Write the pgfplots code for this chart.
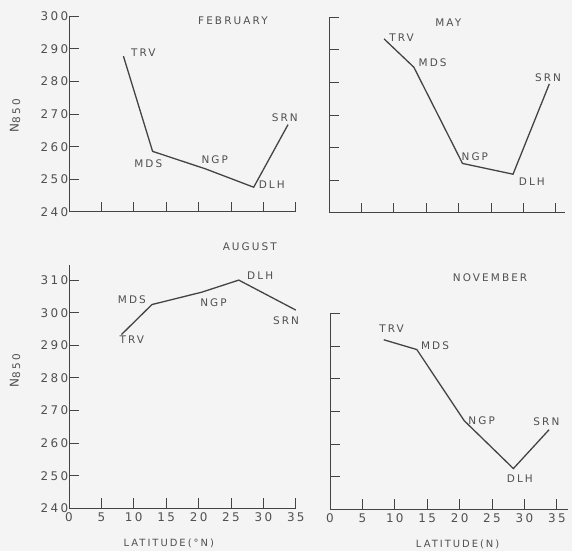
\documentclass[border=0pt]{standalone}
\usepackage{pgfplots}
\pgfplotsset{compat=1.18}
\usepackage{fontspec}
\setmainfont{DejaVu Sans}[LetterSpace=20]
\definecolor{ink}{RGB}{68,68,68}
\definecolor{txt}{RGB}{80,80,80}
\definecolor{bg}{RGB}{244,244,244}
\pgfplotsset{
  panel/.style={
    x=6.48bp, y=3.26bp, anchor=south west,
    axis lines*=left, xmin=0, ymin=240,
    axis line style={ink, line width=1bp},
    tick style={ink, line width=1bp},
    tick align=inside, major tick length=10bp,
    xtick={0,5,...,35}, ytick={240,250,...,310},
    clip=false,
    /pgf/number format/assume math mode=true,
    ticklabel style={font=\fontsize{12}{13}\selectfont, text=txt},
    yticklabel style={inner sep=0.5bp},
    xticklabel style={inner sep=4.5bp},
  },
}
\tikzset{
  data/.style={ink, line width=1.3bp, mark=none},
  lab/.style={font=\fontsize{10.5}{11}\selectfont, text=txt, inner sep=0pt},
  ttl/.style={font=\fontsize{10.5}{11}\selectfont, text=txt, inner sep=0pt},
  xlab/.style={font=\fontsize{10}{11}\selectfont, text=txt, inner sep=0pt},
  ylab/.style={font=\fontsize{12}{13}\selectfont, text=txt, inner sep=0pt, rotate=90},
}
\begin{document}
\begin{tikzpicture}
\useasboundingbox (0,0) rectangle (572bp,551bp);
\fill[bg] (0,0) rectangle (572bp,551bp);
% February
\begin{axis}[panel, at={(69bp,339bp)}, xmax=35, ymax=300, xticklabels={}]
\addplot[data] coordinates {(8.4,287.8) (12.9,258.6) (21.1,253.2) (28.5,247.6) (33.8,266.8)};
\node[lab] at (axis cs:11.47,288.8) {TRV};
\node[lab] at (axis cs:12.24,254.8) {MDS};
\node[lab] at (axis cs:22.5,256) {NGP};
\node[lab] at (axis cs:31.3,248.3) {DLH};
\node[lab] at (axis cs:33.3,268.8) {SRN};
\node[ttl] at (axis cs:25.3,298.6) {FEBRUARY};
\node[ylab] at ([xshift=-54bp]axis cs:0,269.5) {N\raisebox{-1.5bp}{\fontsize{10.5}{11}\selectfont 850}};
\end{axis}
% May
\begin{axis}[panel, at={(329bp,338bp)}, xmax=36.4, ymax=300, xticklabels={}, yticklabels={}]
\addplot[data] coordinates {(8.5,293.4) (13.1,284.7) (20.6,255.2) (28.4,251.9) (34.0,279.6)};
\node[lab] at (axis cs:11.2,293.7) {TRV};
\node[lab] at (axis cs:16.0,286.2) {MDS};
\node[lab] at (axis cs:22.5,257.4) {NGP};
\node[lab] at (axis cs:31.3,249.5) {DLH};
\node[lab] at (axis cs:33.8,281.5) {SRN};
\node[ttl] at (axis cs:18.4,298.5) {MAY};
\end{axis}
% August
\begin{axis}[panel, at={(69bp,42.7bp)}, xmax=35, ymax=314.5]
\addplot[data] coordinates {(8.1,293.3) (12.8,302.5) (20.5,306.3) (26.2,310) (35.0,300.8)};
\node[lab] at (axis cs:9.7,304.1) {MDS};
\node[lab] at (axis cs:22.3,303.0) {NGP};
\node[lab] at (axis cs:29.5,311.2) {DLH};
\node[lab] at (axis cs:33.5,297.4) {SRN};
\node[lab] at (axis cs:9.7,291.8) {TRV};
\node[ttl] at (axis cs:27.9,320.1) {AUGUST};
\node[ylab] at ([xshift=-54bp]axis cs:0,282.2) {N\raisebox{-1.5bp}{\fontsize{10.5}{11}\selectfont 850}};
\node[xlab] at ([yshift=-35bp]axis cs:15.4,240) {LATITUDE(°N)};
\end{axis}
% November
\begin{axis}[panel, at={(330bp,41.7bp)}, xmax=36.8, ymax=300, yticklabels={}]
\addplot[data] coordinates {(8.3,292) (13.4,289) (20.7,267.2) (28.3,252.5) (33.8,264.4)};
\node[lab] at (axis cs:9.5,295.4) {TRV};
\node[lab] at (axis cs:16.2,290.2) {MDS};
\node[lab] at (axis cs:23.4,267.1) {NGP};
\node[lab] at (axis cs:33.4,266.8) {SRN};
\node[lab] at (axis cs:29.3,249.5) {DLH};
\node[ttl] at (axis cs:24.7,311.1) {NOVEMBER};
\node[xlab] at ([yshift=-35bp]axis cs:19.7,240) {LATITUDE(N)};
\end{axis}
\end{tikzpicture}
\end{document}
